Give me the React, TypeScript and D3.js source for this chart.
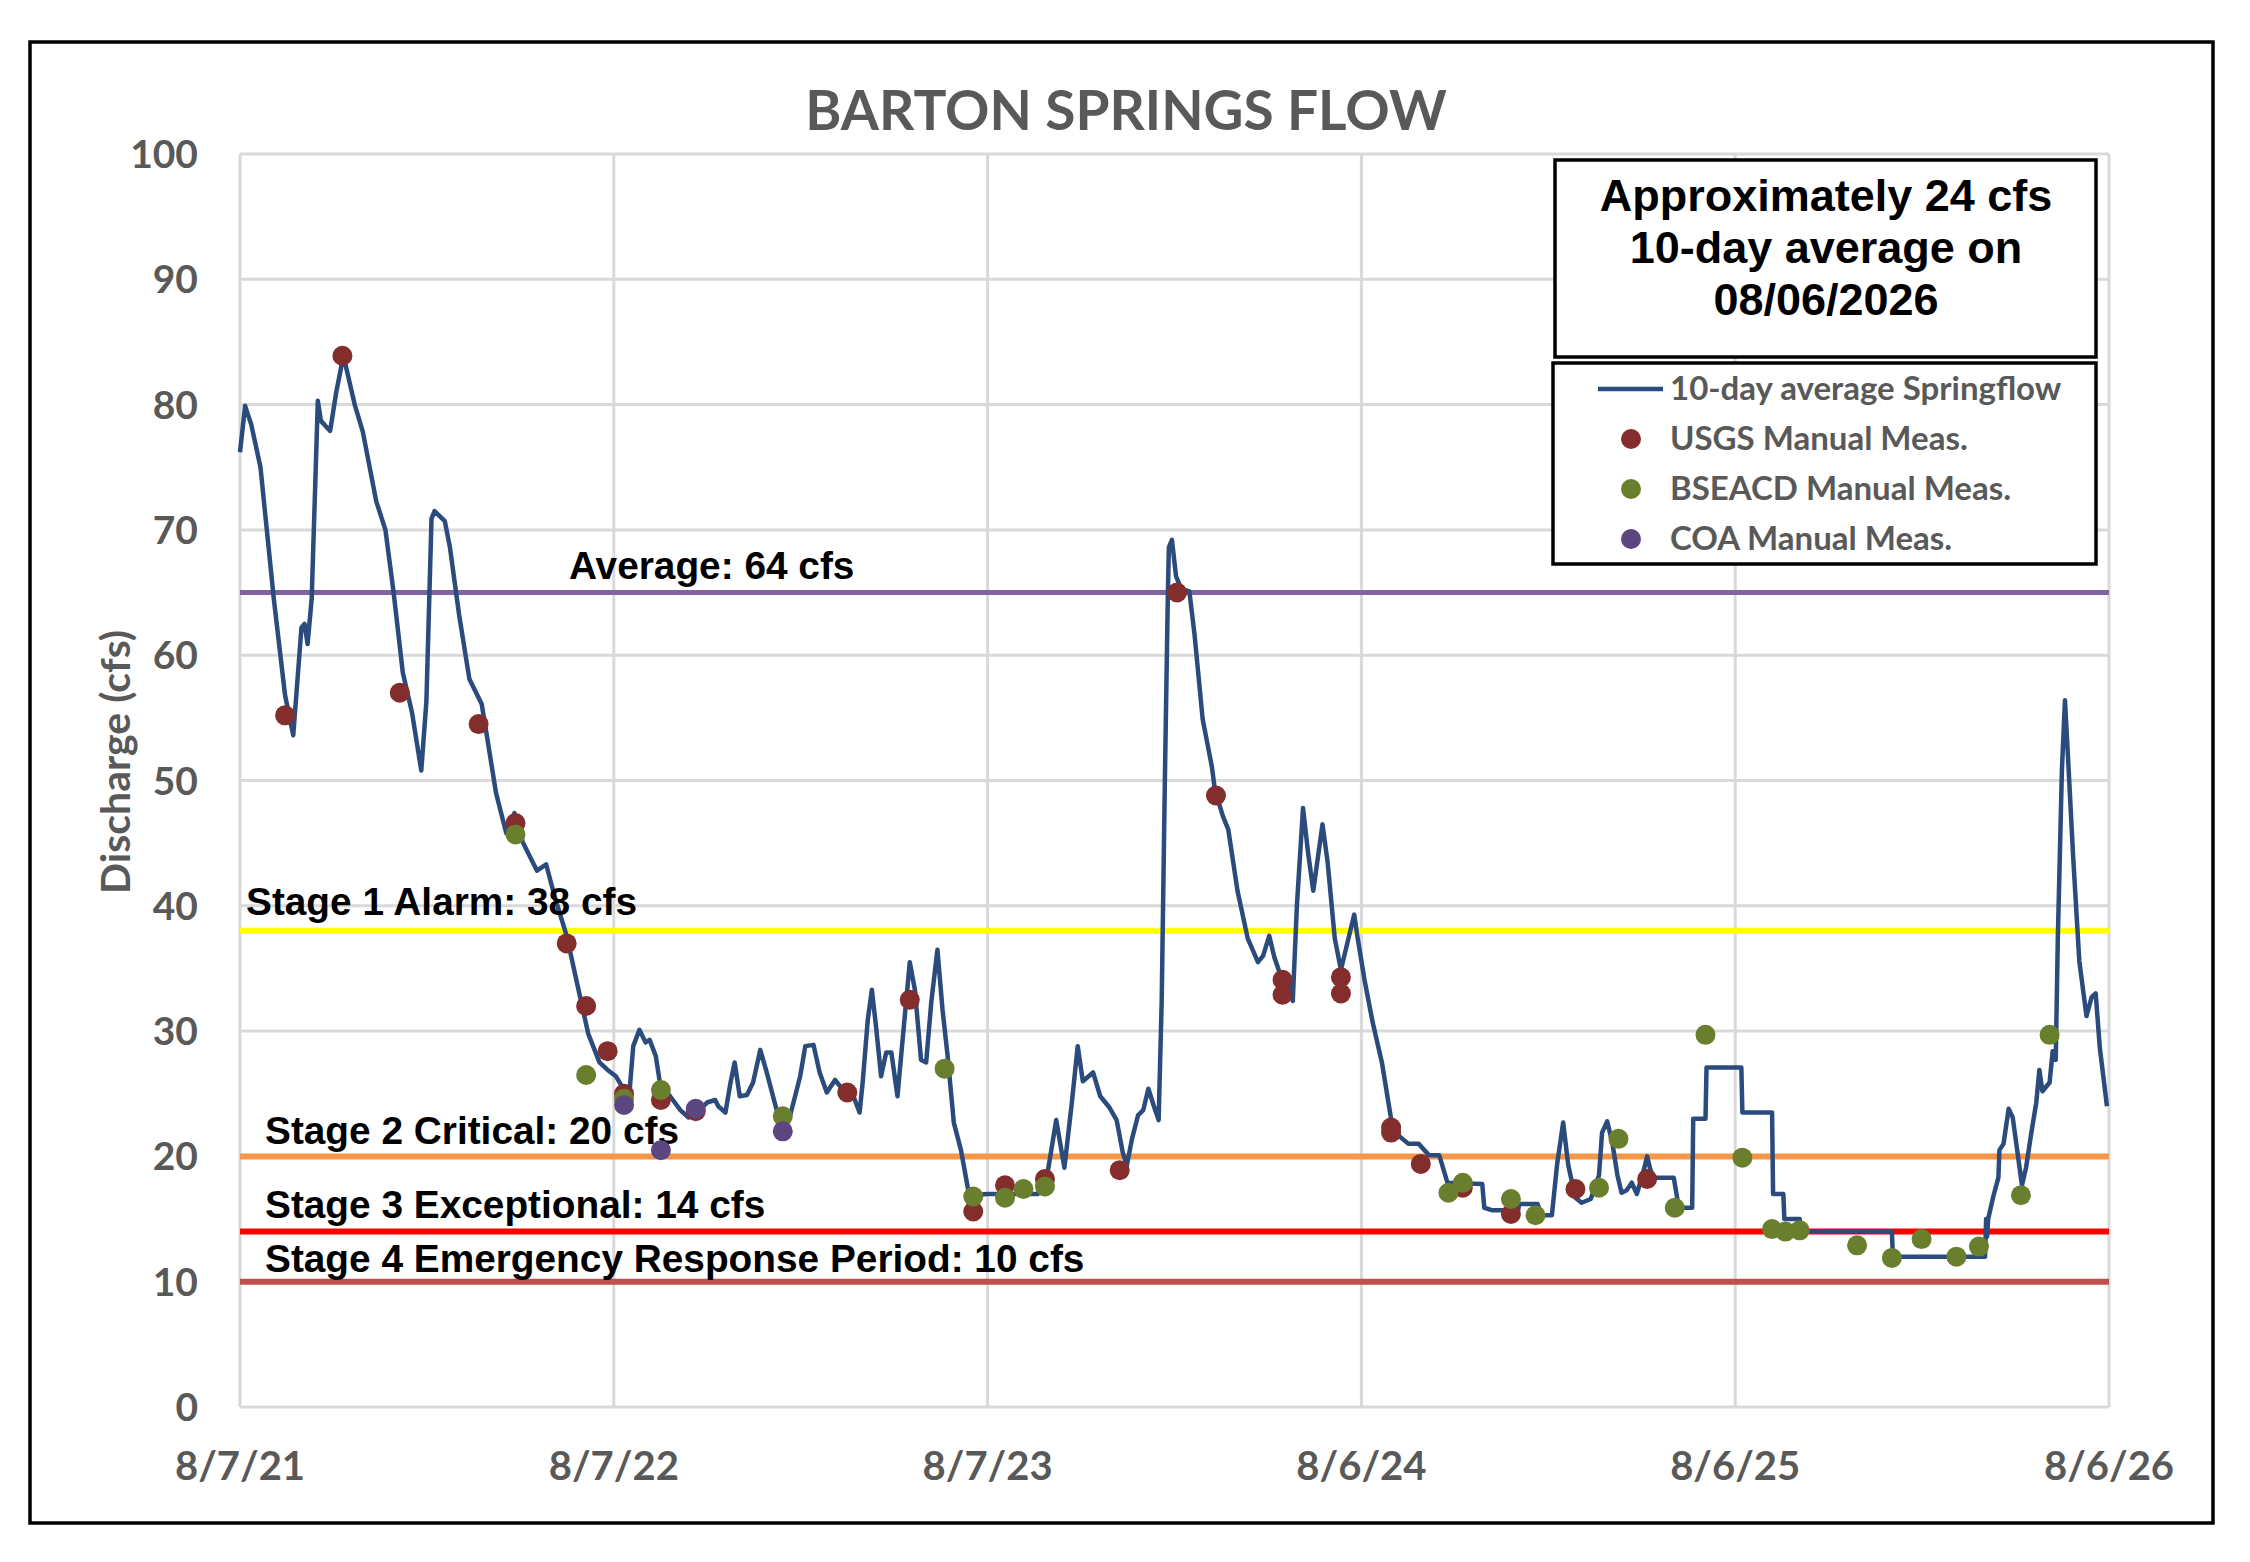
import { useEffect } from "react";
import * as d3 from "d3";

const W = 2250;
const H = 1562;
const FRAME = { left: 30, top: 42, right: 2213, bottom: 1523 };
const PLOT = { left: 240, right: 2109, top: 154, bottom: 1407 };

const GRAY = "#595959";
const CALIBRI = "Lato, 'Open Sans', sans-serif";
const ARIAL = "'Liberation Sans', Arial, sans-serif";

// 10-day average springflow (date, cfs)
const flow2021: [string, number][] = [
  ["2021-08-07", 76.2], ["2021-08-12", 79.9], ["2021-08-18", 78.4], ["2021-08-27", 75], ["2021-09-09", 64.5],
  ["2021-09-20", 56.8], ["2021-09-28", 53.6], ["2021-10-06", 62.2], ["2021-10-09", 62.5], ["2021-10-12", 60.9],
  ["2021-10-16", 64.5], ["2021-10-22", 80.3], ["2021-10-25", 78.7], ["2021-11-03", 77.9], ["2021-11-09", 81],
  ["2021-11-16", 83.9], ["2021-11-27", 80], ["2021-12-05", 77.8], ["2021-12-18", 72.3], ["2021-12-27", 70],
  ["2022-01-04", 65], ["2022-01-13", 58.6], ["2022-01-22", 55.4], ["2022-01-31", 50.8], ["2022-02-05", 56.3],
  ["2022-02-10", 70.9], ["2022-02-13", 71.5], ["2022-02-23", 70.7], ["2022-02-28", 68.6], ["2022-03-09", 63.2],
  ["2022-03-19", 58.1], ["2022-03-31", 56.1], ["2022-04-05", 53.6], ["2022-04-14", 49], ["2022-04-24", 45.8],
  ["2022-05-02", 47.4], ["2022-05-10", 45.1], ["2022-05-24", 42.8], ["2022-06-02", 43.3], ["2022-06-10", 40.8],
  ["2022-06-22", 37.6], ["2022-07-03", 33.5], ["2022-07-13", 29.8], ["2022-07-24", 27.5], ["2022-08-01", 26.9],
];
const flow2022: [string, number][] = [
  ["2022-08-09", 26.4], ["2022-08-17", 25.3], ["2022-08-22", 24.8], ["2022-08-26", 28.8], ["2022-09-01", 30.1],
  ["2022-09-07", 29.1], ["2022-09-11", 29.3], ["2022-09-17", 28], ["2022-09-21", 25.9], ["2022-10-01", 24.8],
  ["2022-10-11", 23.7], ["2022-10-19", 23.1], ["2022-10-27", 23.5], ["2022-11-06", 24.3], ["2022-11-14", 24.5],
  ["2022-11-17", 24], ["2022-11-24", 23.5], ["2022-11-29", 25.9], ["2022-12-03", 27.5], ["2022-12-08", 24.8],
  ["2022-12-15", 24.9], ["2022-12-21", 25.9], ["2022-12-28", 28.5], ["2023-01-03", 26.8], ["2023-01-13", 23.7],
  ["2023-01-19", 22.9], ["2023-01-26", 23.2], ["2023-02-05", 26.4], ["2023-02-10", 28.8], ["2023-02-18", 28.9],
  ["2023-02-24", 26.7], ["2023-03-03", 25.1], ["2023-03-11", 26.1], ["2023-03-16", 25.6], ["2023-03-29", 24.8],
  ["2023-04-04", 23.5], ["2023-04-07", 25.9], ["2023-04-12", 30.9], ["2023-04-16", 33.3], ["2023-04-20", 30.4],
  ["2023-04-25", 26.4], ["2023-04-30", 28.3], ["2023-05-05", 28.3], ["2023-05-11", 24.8], ["2023-05-16", 29.3],
  ["2023-05-23", 35.5], ["2023-05-28", 33.3], ["2023-06-03", 27.7], ["2023-06-08", 27.5], ["2023-06-13", 32.3],
  ["2023-06-19", 36.5], ["2023-06-24", 31.7], ["2023-06-29", 28], ["2023-07-05", 22.7], ["2023-07-12", 20.5],
  ["2023-07-20", 16.9],
];
const flow2023: [string, number][] = [
  ["2023-08-07", 17], ["2023-09-25", 17], ["2023-10-04", 18.4], ["2023-10-13", 22.9], ["2023-10-21", 19.1],
  ["2023-10-28", 24.1], ["2023-11-03", 28.8], ["2023-11-08", 26], ["2023-11-18", 26.7], ["2023-11-25", 24.8],
  ["2023-12-04", 23.9], ["2023-12-11", 22.9], ["2023-12-17", 20.3], ["2023-12-21", 19.3], ["2023-12-26", 21.4],
  ["2024-01-01", 23.3], ["2024-01-06", 23.7], ["2024-01-11", 25.4], ["2024-01-16", 24.1], ["2024-01-21", 22.9],
  ["2024-01-24", 32.4], ["2024-01-27", 49.5], ["2024-01-30", 64.8], ["2024-01-31", 68.6], ["2024-02-03", 69.2],
  ["2024-02-07", 66.3], ["2024-02-12", 65.3], ["2024-02-20", 65.1], ["2024-02-25", 61.7], ["2024-03-04", 54.9],
  ["2024-03-13", 51.1], ["2024-03-16", 49.2], ["2024-03-24", 47.1], ["2024-03-29", 46.1], ["2024-04-07", 41.2],
  ["2024-04-17", 37.4], ["2024-04-27", 35.5], ["2024-05-02", 36], ["2024-05-08", 37.6], ["2024-05-13", 35.9],
  ["2024-05-18", 34.7], ["2024-05-26", 34.3], ["2024-05-31", 32.4], ["2024-06-04", 40], ["2024-06-10", 47.8],
  ["2024-06-15", 44.2], ["2024-06-20", 41.2], ["2024-06-29", 46.5], ["2024-07-04", 43.5], ["2024-07-11", 37.4],
  ["2024-07-17", 34.9], ["2024-07-22", 36.6], ["2024-07-30", 39.3], ["2024-08-02", 37.6],
];
const flow2024: [string, number][] = [
  ["2024-08-09", 34.1], ["2024-08-17", 30.7], ["2024-08-26", 27.5], ["2024-09-04", 23], ["2024-09-12", 21.6],
  ["2024-09-21", 21], ["2024-10-01", 21], ["2024-10-11", 20.1], ["2024-10-21", 20.1], ["2024-10-29", 17.9],
  ["2024-12-02", 17.8], ["2024-12-04", 15.9], ["2024-12-12", 15.7], ["2025-01-06", 15.7], ["2025-01-07", 16.2],
  ["2025-01-25", 16.2], ["2025-01-29", 15.3], ["2025-02-08", 15.3], ["2025-02-13", 19.3], ["2025-02-19", 22.7],
  ["2025-02-24", 19.3], ["2025-03-03", 16.7], ["2025-03-09", 16.3], ["2025-03-18", 16.6], ["2025-03-26", 18.5],
  ["2025-03-29", 21.9], ["2025-04-03", 22.8], ["2025-04-08", 21.1], ["2025-04-13", 18.5], ["2025-04-17", 17.1],
  ["2025-04-22", 17.3], ["2025-04-27", 17.9], ["2025-05-02", 17], ["2025-05-09", 19], ["2025-05-12", 20],
  ["2025-05-15", 19], ["2025-05-18", 18.3], ["2025-06-07", 18.3], ["2025-06-12", 15.9], ["2025-06-25", 15.9],
  ["2025-06-26", 23], ["2025-07-08", 23], ["2025-07-09", 27.1],
];
const flow2025: [string, number][] = [
  ["2025-08-12", 27.1], ["2025-08-13", 23.5], ["2025-09-11", 23.5], ["2025-09-12", 17], ["2025-09-22", 17],
  ["2025-09-23", 15], ["2025-10-08", 15], ["2025-10-09", 14], ["2026-01-06", 14], ["2026-01-07", 12],
  ["2026-04-07", 12], ["2026-04-08", 15], ["2026-04-09", 13.6], ["2026-04-10", 15], ["2026-04-15", 16.8],
  ["2026-04-20", 18.3], ["2026-04-21", 20.5], ["2026-04-25", 21], ["2026-04-30", 23.8], ["2026-05-04", 23.1],
  ["2026-05-13", 17.7], ["2026-05-17", 19.1], ["2026-05-22", 21.8], ["2026-05-27", 24.3], ["2026-05-30", 26.9],
  ["2026-06-02", 25.2], ["2026-06-09", 25.9], ["2026-06-12", 28.4], ["2026-06-15", 27.7], ["2026-06-17", 37.3],
  ["2026-06-21", 50.8], ["2026-06-24", 56.4], ["2026-06-27", 51.8], ["2026-07-02", 43.9], ["2026-07-08", 35.6],
  ["2026-07-15", 31.2], ["2026-07-20", 32.7], ["2026-07-24", 33], ["2026-07-28", 28.7], ["2026-08-04", 24],
];

// manual measurements (date, cfs)
const usgsMeas: [string, number][] = [
  ["2021-09-20", 55.2], ["2021-11-15", 83.9], ["2022-01-10", 57], ["2022-03-28", 54.5], ["2022-05-03", 46.6],
  ["2022-06-22", 37], ["2022-07-11", 32], ["2022-08-01", 28.4], ["2022-08-17", 25], ["2022-09-22", 24.5],
  ["2022-10-26", 23.6], ["2023-03-23", 25.1], ["2023-05-23", 32.5], ["2023-07-24", 15.6], ["2023-08-24", 17.7],
  ["2023-10-02", 18.2], ["2023-12-14", 18.9], ["2024-02-08", 65], ["2024-03-17", 48.8], ["2024-05-21", 34.1],
  ["2024-05-21", 32.9], ["2024-07-17", 34.3], ["2024-07-17", 33], ["2024-09-04", 22.3], ["2024-09-04", 21.9],
  ["2024-10-03", 19.4], ["2024-11-13", 17.5], ["2024-12-30", 15.4], ["2025-03-03", 17.4], ["2025-05-12", 18.2],
];
const bseacdMeas: [string, number][] = [
  ["2022-05-03", 45.7], ["2022-07-11", 26.5], ["2022-08-17", 24.6], ["2022-09-22", 25.3], ["2023-01-19", 23.2],
  ["2023-06-26", 27], ["2023-07-24", 16.8], ["2023-08-24", 16.7], ["2023-09-11", 17.4], ["2023-10-02", 17.6],
  ["2024-10-30", 17.1], ["2024-11-13", 17.9], ["2024-12-30", 16.6], ["2025-01-23", 15.3], ["2025-03-26", 17.5],
  ["2025-04-14", 21.4], ["2025-06-08", 15.9], ["2025-07-08", 29.7], ["2025-08-13", 19.9], ["2025-09-11", 14.2],
  ["2025-09-24", 14], ["2025-10-08", 14.1], ["2025-12-03", 12.9], ["2026-01-06", 11.9], ["2026-02-04", 13.4],
  ["2026-03-10", 12], ["2026-04-01", 12.8], ["2026-05-12", 16.9], ["2026-06-09", 29.7],
];
const coaMeas: [string, number][] = [
  ["2022-08-17", 24.1], ["2022-09-22", 20.5], ["2022-10-26", 23.8], ["2023-01-19", 22],
];

const xTickDates = ["2021-08-07", "2022-08-07", "2023-08-07", "2024-08-06", "2025-08-06", "2026-08-06"];
const yTickValues = [0, 10, 20, 30, 40, 50, 60, 70, 80, 90, 100];

const thresholdValues = [65, 38, 20, 14, 10];
const thresholdLabels = [
  "Average: 64 cfs",
  "Stage 1 Alarm: 38 cfs",
  "Stage 2 Critical: 20 cfs",
  "Stage 3 Exceptional: 14 cfs",
  "Stage 4 Emergency Response Period: 10 cfs",
];

const noteLines = ["Approximately 24 cfs", "10-day average on", "08/06/2026"];
const legendLabels = ["10-day average Springflow", "USGS Manual Meas.", "BSEACD Manual Meas.", "COA Manual Meas."];

// styles and label placement, kept apart from the data
const thresholdStyle = [
  { color: "#8064A2", width: 5, labelX: 569, dy: -14 },
  { color: "#FFFF00", width: 6, labelX: 246, dy: -16 },
  { color: "#F79646", width: 6, labelX: 265, dy: -12 },
  { color: "#FF0000", width: 6, labelX: 265, dy: -14 },
  { color: "#C0504D", width: 6, labelX: 265, dy: -10 },
];
const LINE_COLOR = "#2A4B7C";
const MARKER_COLORS = ["#832D2D", "#6A7F2E", "#5B4680"];

const parse = d3.timeParse("%Y-%m-%d");
const fmt = d3.timeFormat("%-m/%-d/%y");

export default function App() {
  useEffect(() => {
    document.body.style.margin = "0";
  }, []);

  const x = d3
    .scaleTime()
    .domain([parse(xTickDates[0])!, parse(xTickDates[xTickDates.length - 1])!])
    .range([PLOT.left, PLOT.right]);
  const y = d3.scaleLinear().domain([0, 100]).range([PLOT.bottom, PLOT.top]);

  const flow = [...flow2021, ...flow2022, ...flow2023, ...flow2024, ...flow2025].map(([d, v]) => ({
    date: parse(d)!,
    value: v,
  }));
  const line = d3
    .line<{ date: Date; value: number }>()
    .x((d) => x(d.date))
    .y((d) => y(d.value));

  const markerSets = [usgsMeas, bseacdMeas, coaMeas];

  return (
    <svg width={W} height={H} style={{ display: "block", background: "#fff" }}>
      <rect x={0} y={0} width={W} height={H} fill="#fff" />
      <rect
        x={FRAME.left}
        y={FRAME.top}
        width={FRAME.right - FRAME.left}
        height={FRAME.bottom - FRAME.top}
        fill="#fff"
        stroke="#000"
        strokeWidth={3.5}
      />

      <text x={1126} y={130} textAnchor="middle" fontFamily={CALIBRI} fontWeight={700} fontSize={55} fill={GRAY}>
        BARTON SPRINGS FLOW
      </text>

      {/* grid */}
      {yTickValues.map((t) => (
        <line key={`gy${t}`} x1={PLOT.left} x2={PLOT.right} y1={y(t)} y2={y(t)} stroke="#D9D9D9" strokeWidth={3} />
      ))}
      {xTickDates.map((d) => (
        <line key={`gx${d}`} x1={x(parse(d)!)} x2={x(parse(d)!)} y1={PLOT.top} y2={PLOT.bottom} stroke="#D9D9D9" strokeWidth={3} />
      ))}

      {/* axis labels */}
      {yTickValues.map((t) => (
        <text key={`ty${t}`} x={198} y={y(t) + 14} textAnchor="end" fontFamily={CALIBRI} fontWeight={700} fontSize={39} fill={GRAY}>
          {t}
        </text>
      ))}
      {xTickDates.map((d) => (
        <text key={`tx${d}`} x={x(parse(d)!)} y={1480} textAnchor="middle" fontFamily={CALIBRI} fontWeight={700} fontSize={40} fill={GRAY}>
          {fmt(parse(d)!)}
        </text>
      ))}
      <text
        transform={`translate(130, 762) rotate(-90)`}
        textAnchor="middle"
        fontFamily={CALIBRI}
        fontWeight={700}
        fontSize={41}
        fill={GRAY}
      >
        Discharge (cfs)
      </text>

      {/* threshold lines */}
      {thresholdValues.map((v, i) => (
        <line
          key={`th${i}`}
          x1={PLOT.left}
          x2={PLOT.right}
          y1={y(v)}
          y2={y(v)}
          stroke={thresholdStyle[i].color}
          strokeWidth={thresholdStyle[i].width}
        />
      ))}

      {/* springflow */}
      <path d={line(flow) ?? undefined} fill="none" stroke={LINE_COLOR} strokeWidth={4.5} strokeLinejoin="round" />

      {/* threshold labels */}
      {thresholdLabels.map((label, i) => (
        <text
          key={`tl${i}`}
          x={thresholdStyle[i].labelX}
          y={y(thresholdValues[i]) + thresholdStyle[i].dy}
          fontFamily={ARIAL}
          fontWeight={700}
          fontSize={38.8}
          fill="#000"
        >
          {label}
        </text>
      ))}

      {/* manual measurements */}
      {markerSets.map((set, si) =>
        set.map(([d, v], i) => (
          <circle key={`m${si}-${i}`} cx={x(parse(d)!)} cy={y(v)} r={10} fill={MARKER_COLORS[si]} />
        )),
      )}

      {/* note box */}
      <rect x={1555} y={160} width={541} height={197} fill="#fff" stroke="#000" strokeWidth={3.5} />
      {noteLines.map((t, i) => (
        <text key={`n${i}`} x={1826} y={211 + i * 52} textAnchor="middle" fontFamily={ARIAL} fontWeight={700} fontSize={45} fill="#000">
          {t}
        </text>
      ))}

      {/* legend */}
      <rect x={1553} y={363} width={543} height={201} fill="#fff" stroke="#000" strokeWidth={3.5} />
      {legendLabels.map((label, i) => {
        const cy = 389 + i * 50;
        return (
          <g key={`lg${i}`}>
            {i === 0 ? (
              <line x1={1598} x2={1663} y1={cy} y2={cy} stroke={LINE_COLOR} strokeWidth={4.5} />
            ) : (
              <circle cx={1631} cy={cy} r={10} fill={MARKER_COLORS[i - 1]} />
            )}
            <text x={1670} y={cy + 11} fontFamily={CALIBRI} fontWeight={700} fontSize={33} fill={GRAY}>
              {label}
            </text>
          </g>
        );
      })}
    </svg>
  );
}
